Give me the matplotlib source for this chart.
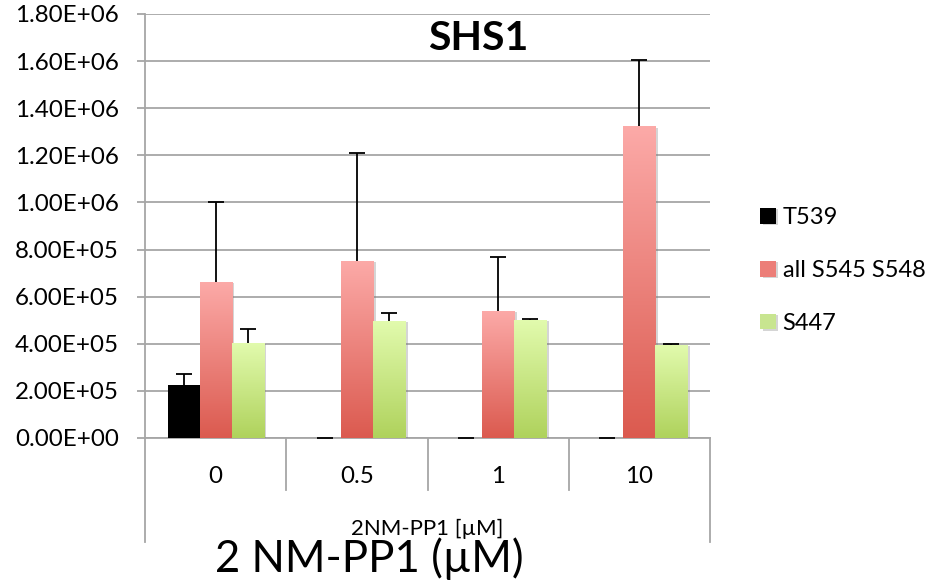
import numpy as np
import matplotlib.pyplot as plt
from matplotlib import patheffects
from matplotlib.colors import LinearSegmentedColormap
from matplotlib.ticker import FuncFormatter

plt.rcParams['font.family'] = ['Lato', 'DejaVu Sans']

doses = ["0", "0.5", "1", "10"]
series = ["T539", "all S545 S548", "S447"]

t539 = [2.26e5, 0, 0, 0]
t539_err = [0.46e5, 0, 0, 0]
s545 = [6.64e5, 7.53e5, 5.40e5, 1.323e6]
s545_err = [3.36e5, 4.56e5, 2.30e5, 2.81e5]
s447 = [4.04e5, 4.98e5, 5.02e5, 3.96e5]
s447_err = [0.60e5, 0.34e5, 0.04e5, 0.02e5]

values = [t539, s545, s447]
errors = [t539_err, s545_err, s447_err]
# (bottom, top) colours of each bar's gradient
fills = [("black", "black"), ("#DB5A4F", "#FCAAA8"), ("#AFD25C", "#E2FBAE")]
mids = ["black", "#EC7E78", "#C8E590"]
grey = "#A6A6A6"

fig = plt.figure(figsize=(9.44, 5.84), dpi=100)
ax = fig.add_axes([145 / 944, 146 / 584, 565 / 944, 424 / 584])

x = np.arange(len(doses))
w = 0.227
grad = np.linspace(0, 1, 256).reshape(-1, 1)
shadow = [patheffects.SimplePatchShadow(offset=(2, -1), shadow_rgbFace="#777777", alpha=0.3),
          patheffects.Normal()]

handles = []
for i, (vals, errs) in enumerate(zip(values, errors)):
    pos = x + (i - 1) * w
    bars = ax.bar(pos, vals, w, color=mids[i], zorder=3, label=series[i])
    handles.append(bars)
    cmap = LinearSegmentedColormap.from_list(f"g{i}", list(fills[i]))
    for p in bars.patches:
        if p.get_height() <= 0:
            continue
        p.set_path_effects(shadow)
        im = ax.imshow(grad, cmap=cmap, origin="lower", aspect="auto", zorder=3.1,
                       extent=[p.get_x(), p.get_x() + p.get_width(), 0, p.get_height()])
        im.set_clip_path(p)
    eb = ax.errorbar(pos, vals, yerr=[np.zeros(len(vals)), errs], fmt="none",
                     ecolor="black", elinewidth=1.3, capsize=5.8, capthick=1.3, zorder=5)
    # keep only the upper cap
    for cl in eb[1]:
        if np.allclose(cl.get_ydata(), vals):
            cl.remove()
            break

ax.set_xlim(-0.5, len(doses) - 0.5)
ax.set_ylim(0, 1.8e6)
ax.set_yticks(np.arange(0, 1.81e6, 2e5))
ax.yaxis.set_major_formatter(FuncFormatter(lambda v, _: f"{v:.2E}"))
ax.set_xticks(x, doses)

ax.yaxis.grid(True, color=grey, lw=1.3)
ax.set_axisbelow(True)
for s in ["top", "right"]:
    ax.spines[s].set_visible(False)
for s in ["left", "bottom"]:
    ax.spines[s].set_color(grey)
    ax.spines[s].set_linewidth(1.3)
ax.tick_params(axis="y", length=5.8, width=1.3, color=grey, labelsize=17.4, pad=13)
ax.tick_params(axis="x", length=0, labelsize=17.4, pad=20)

# category dividers below the axis
for xd in np.arange(-0.5, len(doses), 1.0):
    outer = xd < 0 or xd > len(doses) - 1
    ax.plot([xd, xd], [0, -0.245 if outer else -0.1226], color=grey, lw=1.3,
            transform=ax.get_xaxis_transform(), clip_on=False)

ax.text(0.589, 0.943, "SHS1", transform=ax.transAxes, ha="center", va="center",
        fontsize=29.5, fontweight="bold")

fig.text(427.5 / 944, 1 - 535 / 584, "2NM-PP1 [µM]", ha="center", va="baseline", fontsize=16)
fig.text(369 / 944, 1 - 572 / 584, "2 NM-PP1 (µM)", ha="center", va="baseline", fontsize=31.5)

fig.legend(handles, series, loc="upper left", bbox_to_anchor=(760 / 944, 1 - 207 / 584),
           frameon=False, fontsize=17, handlelength=0.66, handleheight=0.66,
           handletextpad=0.3, labelspacing=1.35, borderpad=0, borderaxespad=0)

fig.savefig("out.png", dpi=100)
